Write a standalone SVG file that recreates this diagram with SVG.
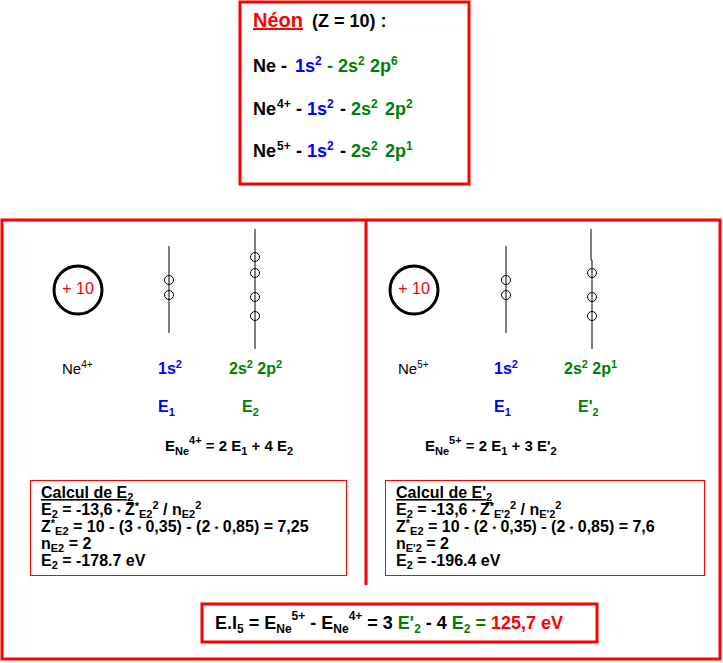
<svg xmlns="http://www.w3.org/2000/svg" width="723" height="663" viewBox="0 0 723 663">
<style>
text{font-family:"Liberation Sans",Arial,sans-serif;fill:#000}
.frame{fill:none;stroke:#f00;stroke-width:3}
.thin{fill:none;stroke:#f00;stroke-width:1}
.orb{stroke:#000;stroke-width:1}
.el{fill:none;stroke:#000;stroke-width:1}
.nuc{fill:none;stroke:#000;stroke-width:3}
.b{font-weight:bold}
.blue{fill:#00f}
.green{fill:#008000}
.red{fill:#f00}
.blk{fill:#000}
.cfg{font-size:18px;font-weight:bold}
.lab{font-size:16px;font-weight:bold}
.ion{font-size:15px}
.eq{font-size:15px;font-weight:bold}
.calc{font-size:16px;font-weight:bold}
.res{font-size:18px;font-weight:bold}
</style>
<rect width="723" height="663" fill="#fff"/>

<g id="neon">
<rect class="frame" x="240" y="2" width="229" height="182"/>
<text x="253" y="27" class="b red" font-size="20" text-decoration="underline">Néon</text>
<text x="312" y="27" class="b" font-size="18">(Z = 10) :</text>
<text y="72" class="cfg"><tspan x="253">Ne -</tspan><tspan x="295" class="blue">1s</tspan><tspan class="blue" font-size="12" dy="-7">2</tspan><tspan x="327" dy="7" class="green">- 2s</tspan><tspan class="green" font-size="12" dy="-7">2</tspan><tspan x="370" dy="7" class="green">2p</tspan><tspan class="green" font-size="12" dy="-7">6</tspan></text>
<text y="115" class="cfg"><tspan x="253">Ne</tspan><tspan x="277" font-size="12" dy="-7">4+</tspan><tspan x="296" dy="7">-</tspan><tspan x="307" class="blue">1s</tspan><tspan class="blue" font-size="12" dy="-7">2</tspan><tspan x="340" dy="7">-</tspan><tspan x="351" class="green">2s</tspan><tspan class="green" font-size="12" dy="-7">2</tspan><tspan x="385" dy="7" class="green">2p</tspan><tspan class="green" font-size="12" dy="-7">2</tspan></text>
<text y="157" class="cfg"><tspan x="253">Ne</tspan><tspan x="277" font-size="12" dy="-7">5+</tspan><tspan x="296" dy="7">-</tspan><tspan x="307" class="blue">1s</tspan><tspan class="blue" font-size="12" dy="-7">2</tspan><tspan x="340" dy="7">-</tspan><tspan x="351" class="green">2s</tspan><tspan class="green" font-size="12" dy="-7">2</tspan><tspan x="385" dy="7" class="green">2p</tspan><tspan class="green" font-size="12" dy="-7">1</tspan></text>
</g>

<g id="frame">
<rect class="frame" x="2" y="220" width="718" height="439"/>
<line x1="366" y1="220" x2="366" y2="585" stroke="#f00" stroke-width="3"/>
</g>

<g id="ne4">
<circle class="nuc" cx="78" cy="290" r="24"/>
<text x="78" y="294" text-anchor="middle" class="red" font-size="16">+ 10</text>
<line class="orb" x1="169" y1="246" x2="169" y2="333"/>
<circle class="el" cx="169" cy="280" r="4.5"/>
<circle class="el" cx="169" cy="295" r="4.5"/>
<line class="orb" x1="255" y1="229" x2="255" y2="349"/>
<circle class="el" cx="255" cy="257" r="4.5"/>
<circle class="el" cx="255" cy="273" r="4.5"/>
<circle class="el" cx="255" cy="297" r="4.5"/>
<circle class="el" cx="255" cy="316" r="4.5"/>
<text x="62" y="374" class="ion">Ne<tspan font-size="10" dy="-6">4+</tspan></text>
<text x="158" y="374" class="lab blue">1s<tspan font-size="11" dy="-6">2</tspan></text>
<text x="229" y="374" class="lab green">2s<tspan font-size="11" dy="-6">2</tspan><tspan dy="6"> 2p</tspan><tspan font-size="11" dy="-6">2</tspan></text>
<text x="158" y="412" class="lab blue">E<tspan font-size="11" dy="4">1</tspan></text>
<text x="242" y="412" class="lab green">E<tspan font-size="11" dy="4">2</tspan></text>
<text x="165" y="451" class="eq">E<tspan font-size="11" dy="4">Ne</tspan><tspan font-size="11" dy="-11">4+</tspan><tspan dy="7"> = 2 E</tspan><tspan font-size="11" dy="4">1</tspan><tspan dy="-4"> + 4 E</tspan><tspan font-size="11" dy="4">2</tspan></text>
<rect class="thin" x="30.5" y="480.5" width="316" height="95"/>
<text x="41" y="498" class="calc" text-decoration="underline">Calcul de E<tspan font-size="11" dy="3">2</tspan></text>
<text x="41" y="515" class="calc">E<tspan font-size="11" dy="3">2</tspan><tspan dy="-3"> = -13,6 </tspan><tspan font-size="9">*</tspan><tspan> Z</tspan><tspan font-size="11" dy="-5">*</tspan><tspan font-size="11" dy="8">E2</tspan><tspan font-size="11" dy="-9">2</tspan><tspan dy="6"> / n</tspan><tspan font-size="11" dy="3">E2</tspan><tspan font-size="11" dy="-9">2</tspan></text>
<text x="41" y="532" class="calc">Z<tspan font-size="11" dy="-5">*</tspan><tspan font-size="11" dy="8">E2</tspan><tspan dy="-3"> = 10 - (3 </tspan><tspan font-size="9">*</tspan><tspan> 0,35) - (2 </tspan><tspan font-size="9">*</tspan><tspan> 0,85) = 7,25</tspan></text>
<text x="41" y="549" class="calc">n<tspan font-size="11" dy="3">E2</tspan><tspan dy="-3"> = 2</tspan></text>
<text x="41" y="566" class="calc">E<tspan font-size="11" dy="3">2</tspan><tspan dy="-3"> = -178.7 eV</tspan></text>
</g>

<g id="ne5">
<circle class="nuc" cx="414" cy="290" r="24"/>
<text x="414" y="294" text-anchor="middle" class="red" font-size="16">+ 10</text>
<line class="orb" x1="506" y1="246" x2="506" y2="333"/>
<circle class="el" cx="506" cy="280" r="4.5"/>
<circle class="el" cx="506" cy="295" r="4.5"/>
<polyline class="orb" fill="none" points="591,229 591,260 592,260 592,349"/>
<circle class="el" cx="592" cy="273" r="4.5"/>
<circle class="el" cx="592" cy="297" r="4.5"/>
<circle class="el" cx="592" cy="316" r="4.5"/>
<text x="398" y="374" class="ion">Ne<tspan font-size="10" dy="-6">5+</tspan></text>
<text x="494" y="374" class="lab blue">1s<tspan font-size="11" dy="-6">2</tspan></text>
<text x="564" y="374" class="lab green">2s<tspan font-size="11" dy="-6">2</tspan><tspan dy="6"> 2p</tspan><tspan font-size="11" dy="-6">1</tspan></text>
<text x="494" y="412" class="lab blue">E<tspan font-size="11" dy="4">1</tspan></text>
<text x="578" y="412" class="lab green">E'<tspan font-size="11" dy="4">2</tspan></text>
<text x="425" y="451" class="eq">E<tspan font-size="11" dy="4">Ne</tspan><tspan font-size="11" dy="-11">5+</tspan><tspan dy="7"> = 2 E</tspan><tspan font-size="11" dy="4">1</tspan><tspan dy="-4"> + 3 E'</tspan><tspan font-size="11" dy="4">2</tspan></text>
<rect class="thin" x="385.5" y="480.5" width="319" height="95"/>
<text x="396" y="498" class="calc" text-decoration="underline">Calcul de E'<tspan font-size="11" dy="3">2</tspan></text>
<text x="396" y="515" class="calc">E<tspan font-size="11" dy="3">2</tspan><tspan dy="-3"> = -13,6 </tspan><tspan font-size="9">*</tspan><tspan> Z</tspan><tspan font-size="11" dy="-5">*</tspan><tspan font-size="11" dy="8">E'2</tspan><tspan font-size="11" dy="-9">2</tspan><tspan dy="6"> / n</tspan><tspan font-size="11" dy="3">E'2</tspan><tspan font-size="11" dy="-9">2</tspan></text>
<text x="396" y="532" class="calc">Z<tspan font-size="11" dy="-5">*</tspan><tspan font-size="11" dy="8">E2</tspan><tspan dy="-3"> = 10 - (2 </tspan><tspan font-size="9">*</tspan><tspan> 0,35) - (2 </tspan><tspan font-size="9">*</tspan><tspan> 0,85) = 7,6</tspan></text>
<text x="396" y="549" class="calc">n<tspan font-size="11" dy="3">E'2</tspan><tspan dy="-3"> = 2</tspan></text>
<text x="396" y="566" class="calc">E<tspan font-size="11" dy="3">2</tspan><tspan dy="-3"> = -196.4 eV</tspan></text>
</g>

<g id="result">
<rect class="frame" x="202" y="604" width="395" height="38"/>
<text x="215" y="629" class="res">E.I<tspan font-size="12" dy="4">5</tspan><tspan dy="-4"> = E</tspan><tspan font-size="12" dy="4">Ne</tspan><tspan font-size="12" dy="-13">5+</tspan><tspan dy="9"> - E</tspan><tspan font-size="12" dy="4">Ne</tspan><tspan font-size="12" dy="-13">4+</tspan><tspan dy="9"> = 3 </tspan><tspan class="green">E'</tspan><tspan class="green" font-size="12" dy="4">2</tspan><tspan class="blk" dy="-4"> - 4 </tspan><tspan class="green">E</tspan><tspan class="green" font-size="12" dy="4">2</tspan><tspan class="green" dy="-4"> = </tspan><tspan class="red">125,7 eV</tspan></text>
</g>
</svg>
